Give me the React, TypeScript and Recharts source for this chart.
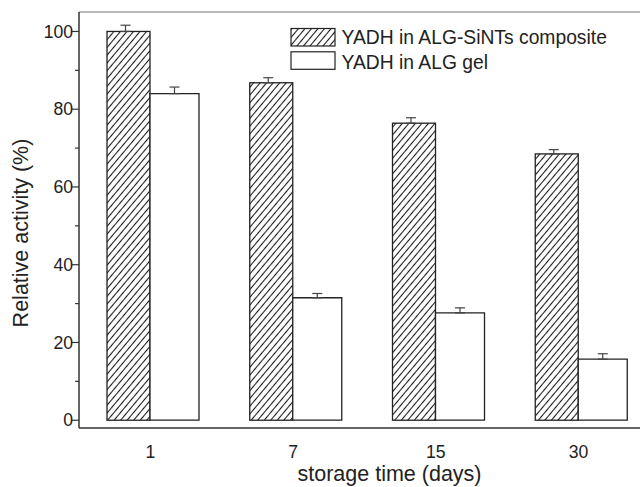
import React from 'react';
import { BarChart, Bar, XAxis, YAxis, ErrorBar, ReferenceLine, Legend } from 'recharts';

const days = ['1', '7', '15', '30'];
const compositeValues = [100, 86.8, 76.4, 68.5];
const compositeErrors = [1.6, 1.3, 1.4, 1.1];
const gelValues = [84.0, 31.5, 27.6, 15.7];
const gelErrors = [1.7, 1.1, 1.3, 1.4];
const yTicks = [0, 10, 20, 30, 40, 50, 60, 70, 80, 90, 100];
const seriesNames = ['YADH in ALG-SiNTs composite', 'YADH in ALG gel'];

const data = days.map((d, i) => ({
  day: d,
  composite: compositeValues[i],
  compositeErr: [0, compositeErrors[i]],
  gel: gelValues[i],
  gelErr: [0, gelErrors[i]],
}));

const FONT = '"Liberation Sans", Arial, sans-serif';
const INK = '#222';

const YTick = (props: any) => {
  const { x, y, payload } = props;
  const major = payload.value % 20 === 0;
  return (
    <g>
      <line x1={x - (major ? 7 : 4)} x2={x} y1={y} y2={y} stroke="#333" strokeWidth={1.2} />
      {major && (
        <text x={x - 6} y={y} dy={6.2} textAnchor="end" fontSize={17.6} fontFamily={FONT} fill={INK}>
          {payload.value}
        </text>
      )}
    </g>
  );
};

const XTick = (props: any) => {
  const { x, y, payload } = props;
  return (
    <text x={x} y={y + 30} textAnchor="middle" fontSize={17.6} fontFamily={FONT} fill={INK}>
      {payload.value}
    </text>
  );
};

const HatchedBar = (props: any) => {
  const { x, y, width, height } = props;
  return <rect x={x + 6} y={y} width={width - 6} height={height} fill="url(#hatch)" stroke={INK} strokeWidth={1.3} />;
};

const renderLegend = () => (
  <svg width={350} height={46} style={{ display: 'block' }}>
    <rect x={1} y={1.5} width={44} height={17.5} fill="url(#hatch)" stroke={INK} strokeWidth={1.2} />
    <text x={51.5} y={17} fontSize={19.3} fontFamily={FONT} fill={INK}>{seriesNames[0]}</text>
    <rect x={1} y={24.8} width={44} height={17.5} fill="#fff" stroke={INK} strokeWidth={1.2} />
    <text x={51.5} y={42} fontSize={19.3} fontFamily={FONT} fill={INK}>{seriesNames[1]}</text>
  </svg>
);

export default function App() {
  return (
    <div style={{ position: 'absolute', left: 0, top: 0, width: 640, height: 487, overflow: 'hidden', background: '#fff' }}>
      <svg width={0} height={0} style={{ position: 'absolute' }}>
        <defs>
          <pattern id="hatch" patternUnits="userSpaceOnUse" width={5} height={10} patternTransform="rotate(40)">
            <line x1={2.5} y1={-1} x2={2.5} y2={11} stroke="#1a1a1a" strokeWidth={1.1} />
          </pattern>
        </defs>
      </svg>
      <BarChart
        width={660}
        height={487}
        data={data}
        margin={{ top: 12, right: 10, bottom: 0, left: 0 }}
        barGap={0}
        barSize={49}
      >
        <XAxis
          dataKey="day"
          height={59}
          axisLine={{ stroke: '#333', strokeWidth: 1.5 }}
          tickLine={false}
          tickSize={0}
          tickMargin={0}
          tick={<XTick />}
          interval={0}
          label={(p: any) => {
            const vb = p.viewBox;
            return (
              <text x={vb.x + vb.width / 2 + 25} y={481} textAnchor="middle" fontSize={21.5} fontFamily={FONT} fill={INK}>
                storage time (days)
              </text>
            );
          }}
        />
        <YAxis
          type="number"
          domain={[-2, 105]}
          ticks={yTicks}
          interval={0}
          allowDataOverflow
          width={79}
          axisLine={{ stroke: '#333', strokeWidth: 1.5 }}
          tickLine={false}
          tickSize={0}
          tickMargin={0}
          tick={<YTick />}
          label={(p: any) => {
            const vb = p.viewBox;
            const cx = 28;
            const cy = vb.y + vb.height / 2 + 13;
            return (
              <text x={cx} y={cy} transform={`rotate(-90 ${cx} ${cy})`} textAnchor="middle" fontSize={21.5} fontFamily={FONT} fill={INK}>
                Relative activity (%)
              </text>
            );
          }}
        />
        <ReferenceLine y={105} stroke="#777" strokeWidth={1.2} />
        <Legend
          layout="horizontal"
          verticalAlign="middle"
          align="center"
          content={renderLegend}
          wrapperStyle={{ left: 290, top: 27, width: 350, height: 46 }}
        />
        <Bar dataKey="composite" name={seriesNames[0]} fill="url(#hatch)" stroke={INK} strokeWidth={1.3} shape={<HatchedBar />} isAnimationActive={false}>
          <ErrorBar dataKey="compositeErr" width={5} stroke="#444" strokeWidth={1.2} direction="y" />
        </Bar>
        <Bar dataKey="gel" name={seriesNames[1]} fill="#fff" stroke={INK} strokeWidth={1.3} isAnimationActive={false}>
          <ErrorBar dataKey="gelErr" width={5} stroke="#444" strokeWidth={1.2} direction="y" />
        </Bar>
      </BarChart>
    </div>
  );
}
